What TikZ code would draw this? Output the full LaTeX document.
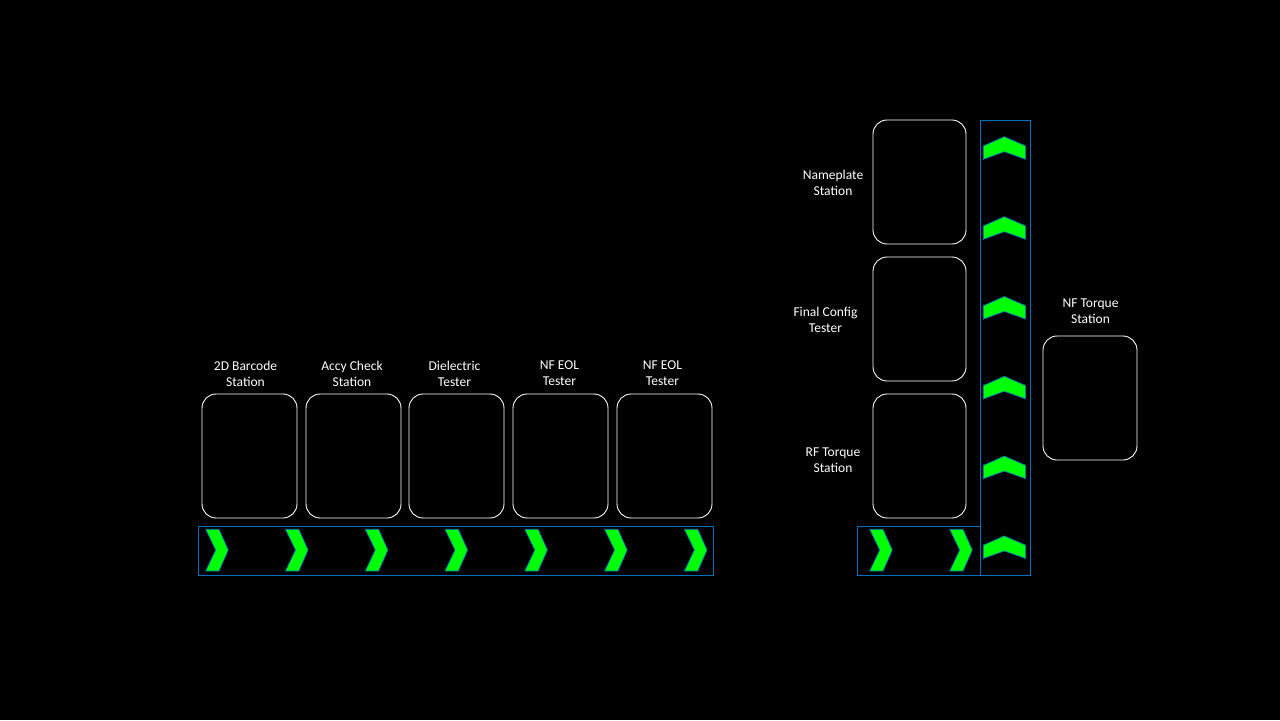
\documentclass[tikz,border=0pt]{standalone}
\usepackage{fontspec}
\setmainfont{Carlito}
\definecolor{belt}{RGB}{0,112,192}
\definecolor{arrowgreen}{RGB}{0,255,0}
\begin{document}
\begin{tikzpicture}[x=0.02cm,y=-0.02cm,
  station/.style={draw=white,line width=0.5pt,rounded corners=8pt},
  beltbox/.style={draw=belt,line width=0.5pt},
  chev/.style={fill=arrowgreen,draw=belt,line width=0.4pt},
  lbl/.style={text=white,font=\fontsize{7.7}{9}\selectfont,align=center,inner sep=0pt}]
\fill[black] (0,0) rectangle (1280,720);
\useasboundingbox (0,0) rectangle (1280,720);
% bottom row stations
\foreach \n/\xa/\xb/\xc/\t in {s1/202/297/245.5/{2D Barcode\\Station},
  s2/306/401/352/{Accy Check\\Station},
  s3/409/504/454.5/{Dielectric\\Tester},
  s4/513/608/559.5/{NF EOL\\Tester},
  s5/617/712/662.5/{NF EOL\\Tester}}{
  \draw[station] (\xa,394) rectangle (\xb,518);
  \node[lbl] (\n-l) at (\xc,373.5) {\t};
}
% bottom conveyor
\draw[beltbox] (198,526) rectangle (713,575);
\foreach \x in {205.7,285.5,365.3,445,524.8,604.6,684.4}{
  \draw[chev] (\x,529.3) -- ++(13.3,0) -- ++(9.3,20.7) -- ++(-9.3,21) -- ++(-13.3,0) -- ++(10,-21) -- cycle;
}
% right column stations
\draw[station] (873,120) rectangle (966,244);
\draw[station] (873,257) rectangle (966,381);
\draw[station] (873,394) rectangle (966,518);
\node[lbl] (r1-l) at (833,182.5) {Nameplate\\Station};
\node[lbl] (r2-l) at (825.5,319.5) {Final Config\\Tester};
\node[lbl] (r3-l) at (833,460.5) {RF Torque\\Station};
% NF Torque station
\draw[station] (1043,336) rectangle (1137,460);
\node[lbl] (nf-l) at (1090.5,311.5) {NF Torque\\Station};
% small horizontal conveyor
\draw[beltbox] (857,526) rectangle (980,575);
\foreach \x in {869.7,949.7}{
  \draw[chev] (\x,529.3) -- ++(13.3,0) -- ++(9.3,20.7) -- ++(-9.3,21) -- ++(-13.3,0) -- ++(10,-21) -- cycle;
}
% vertical conveyor
\draw[beltbox] (980,120) rectangle (1030,575);
\foreach \y in {136.7,216.7,296.5,376.3,456.1,535.9}{
  \draw[chev] (1004.3,\y) -- ++(21.4,9.3) -- ++(0,13.3) -- ++(-21.4,-7.6) -- ++(-21,7.6) -- ++(0,-13.3) -- cycle;
}
\end{tikzpicture}
\end{document}
